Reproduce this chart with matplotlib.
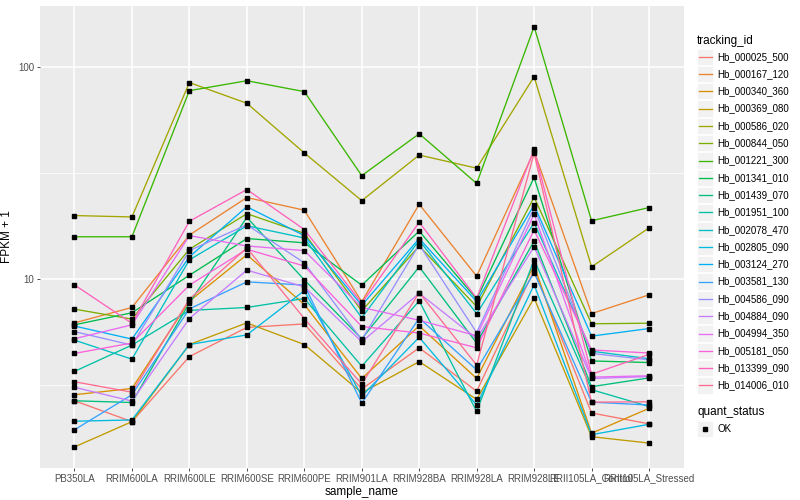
import numpy as np
import matplotlib
matplotlib.use("Agg")
import matplotlib.pyplot as plt
from matplotlib.patches import Rectangle

plt.rcParams['font.family'] = ['Liberation Sans', 'DejaVu Sans']

samples = ["PB350LA", "RRIM600LA", "RRIM600LE", "RRIM600SE", "RRIM600PE", "RRIM901LA",
           "RRIM928BA", "RRIM928LA", "RRIM928LE", "RRII105LA_Control", "RRII105LA_Stressed"]

tracking_ids = ["Hb_000025_500", "Hb_000167_120", "Hb_000340_360", "Hb_000369_080",
                "Hb_000586_020", "Hb_000844_050", "Hb_001221_300", "Hb_001341_010",
                "Hb_001439_070", "Hb_001951_100", "Hb_002078_470", "Hb_002805_090",
                "Hb_003124_270", "Hb_003581_130", "Hb_004586_090", "Hb_004884_090",
                "Hb_004994_350", "Hb_005181_050", "Hb_013399_090", "Hb_014006_010"]

colors = ["#F8766D", "#EA8331", "#D89000", "#C09B00", "#A3A500", "#7CAE00", "#39B600",
          "#00BB4E", "#00BF7D", "#00C1A3", "#00BFC4", "#00BAE0", "#00B0F6", "#35A2FF",
          "#9590FF", "#C77CFF", "#E76BF3", "#FA62DB", "#FF62BC", "#FF6C91"]

# FPKM + 1 per sample (order of samples)
hb_000025_500 = [2.66, 2.12, 4.3, 5.9, 6.13, 3.02, 4.73, 2.95, 11.0, 2.33, 2.07]
hb_000167_120 = [6.2, 7.33, 16.1, 24.2, 21.1, 7.8, 22.5, 10.3, 40.0, 6.86, 8.41]
hb_000340_360 = [2.84, 3.04, 7.85, 13.0, 7.57, 3.39, 6.0, 3.39, 11.6, 1.87, 2.45]
hb_000369_080 = [1.61, 2.12, 4.9, 6.2, 4.9, 2.9, 4.07, 2.7, 8.13, 1.80, 1.68]
hb_000586_020 = [19.9, 19.6, 84.4, 67.4, 39.3, 23.4, 38.4, 33.3, 90.0, 11.4, 17.4]
hb_000844_050 = [7.2, 6.46, 13.8, 20.3, 16.4, 7.06, 14.3, 7.4, 24.3, 6.14, 6.18]
hb_001221_300 = [15.8, 15.8, 77.3, 86.1, 76.5, 30.7, 48.4, 28.2, 155.0, 18.8, 21.7]
hb_001341_010 = [6.07, 6.92, 10.4, 15.5, 14.8, 9.34, 16.8, 8.02, 30.1, 4.1, 4.03]
hb_001439_070 = [2.66, 2.61, 7.7, 19.5, 9.9, 5.21, 11.4, 4.98, 15.1, 3.1, 3.41]
hb_001951_100 = [3.66, 4.87, 7.1, 7.33, 8.08, 3.87, 7.87, 2.37, 12.3, 3.0, 2.5]
hb_002078_470 = [5.14, 4.18, 12.3, 17.8, 15.6, 6.55, 15.2, 6.86, 18.4, 4.56, 4.2]
hb_002805_090 = [2.13, 2.16, 4.9, 5.44, 8.8, 2.8, 5.3, 2.54, 9.37, 1.84, 2.06]
hb_003124_270 = [5.99, 5.2, 12.7, 21.9, 16.0, 7.5, 15.5, 7.82, 22.3, 5.37, 5.83]
hb_003581_130 = [1.94, 2.84, 7.22, 9.68, 9.35, 2.59, 6.53, 3.72, 10.7, 2.62, 2.54]
hb_004586_090 = [5.64, 4.87, 13.6, 18.0, 11.9, 5.16, 14.5, 5.58, 21.6, 4.45, 4.15]
hb_004884_090 = [3.08, 2.65, 6.5, 11.0, 9.17, 5.05, 8.55, 5.23, 14.2, 3.39, 3.46]
hb_004994_350 = [5.22, 6.07, 16.0, 14.3, 13.6, 7.33, 6.38, 5.39, 20.2, 3.44, 3.49]
hb_005181_050 = [4.45, 4.98, 9.34, 13.8, 11.5, 5.96, 5.55, 4.73, 17.0, 4.62, 4.47]
hb_013399_090 = [9.37, 6.17, 18.7, 26.4, 17.1, 7.68, 18.5, 8.11, 40.9, 3.55, 4.4]
hb_014006_010 = [3.27, 2.92, 8.02, 14.0, 6.5, 3.19, 8.61, 3.92, 39.2, 2.62, 2.63]

series = [hb_000025_500, hb_000167_120, hb_000340_360, hb_000369_080, hb_000586_020,
          hb_000844_050, hb_001221_300, hb_001341_010, hb_001439_070, hb_001951_100,
          hb_002078_470, hb_002805_090, hb_003124_270, hb_003581_130, hb_004586_090,
          hb_004884_090, hb_004994_350, hb_005181_050, hb_013399_090, hb_014006_010]

quant_status = ["OK"]

W, H = 800, 500
fig = plt.figure(figsize=(W / 100, H / 100), dpi=100)
left, right, top, bottom = 40, 683.5, 5.6, 468
ax = fig.add_axes([left / W, 1 - bottom / H, (right - left) / W, (bottom - top) / H])
ax.set_facecolor('#EBEBEB')

x = np.arange(len(samples))
for vals, col in zip(series, colors):
    ax.plot(x, vals, color=col, lw=0.95, zorder=2, solid_capstyle='butt')
for vals in series:
    ax.plot(x, vals, linestyle='none', marker='s', ms=2.2, color='black', zorder=3)

ax.set_yscale('log')
allv = np.log10(np.concatenate([np.array(s) for s in series]))
lo, hi = allv.min(), allv.max()
pad = 0.05 * (hi - lo)
ax.set_ylim(10 ** (lo - pad), 10 ** (hi + pad))
ax.set_xlim(-0.6, len(samples) - 0.4)

ax.set_yticks([10, 100])
ax.set_yticklabels(['10', '100'])
ax.set_yticks([10 ** 0.5, 10 ** 1.5], minor=True)
ax.set_yticklabels([], minor=True)
ax.set_xticks(x)
ax.set_xticklabels(samples)
ax.tick_params(axis='both', which='major', length=2, width=0.6, color='#333333',
               labelsize=7, labelcolor='#4D4D4D', pad=2)
ax.tick_params(axis='y', which='minor', length=0)
ax.grid(which='major', color='white', lw=1.1, zorder=0)
ax.yaxis.grid(which='minor', color='white', lw=0.55, zorder=0)
ax.set_axisbelow(True)
for s in ax.spines.values():
    s.set_visible(False)

ax.set_xlabel('sample_name', fontsize=8.5, color='black', labelpad=2)
ax.set_ylabel('FPKM + 1', fontsize=8.5, color='black')
ax.yaxis.set_label_coords((13 - left) / (right - left), 0.5)

# legend drawn in pixel coordinates
lax = fig.add_axes([0, 0, 1, 1], zorder=5)
lax.set_xlim(0, W)
lax.set_ylim(H, 0)
lax.axis('off')
lax.patch.set_alpha(0)

kx0, kw, kh = 697, 17, 17.3
lax.text(kx0, 40.7, 'tracking_id', fontsize=8.5, va='center', ha='left')
for i, (tid, col) in enumerate(zip(tracking_ids, colors)):
    yc = 56.7 + i * 17.3
    lax.add_patch(Rectangle((kx0, yc - kh / 2 + 0.5), kw - 1, kh - 1, facecolor='#F2F2F2',
                            edgecolor='white', lw=0.6))
    lax.plot([kx0 + 1.5, kx0 + kw - 2.5], [yc, yc], color=col, lw=0.95)
    lax.text(kx0 + kw + 3, yc, tid, fontsize=7, va='center', ha='left')

lax.text(kx0, 412, 'quant_status', fontsize=8.5, va='center', ha='left')
yq = 429
for i, q in enumerate(quant_status):
    lax.add_patch(Rectangle((kx0, yq - kh / 2 + 0.5), kw - 1, kh - 1, facecolor='#F2F2F2',
                            edgecolor='white', lw=0.6))
    lax.plot([kx0 + (kw - 1) / 2], [yq], marker='s', ms=2.2, color='black')
    lax.text(kx0 + kw + 3, yq, q, fontsize=7, va='center', ha='left')

fig.savefig('out.png', dpi=100)
